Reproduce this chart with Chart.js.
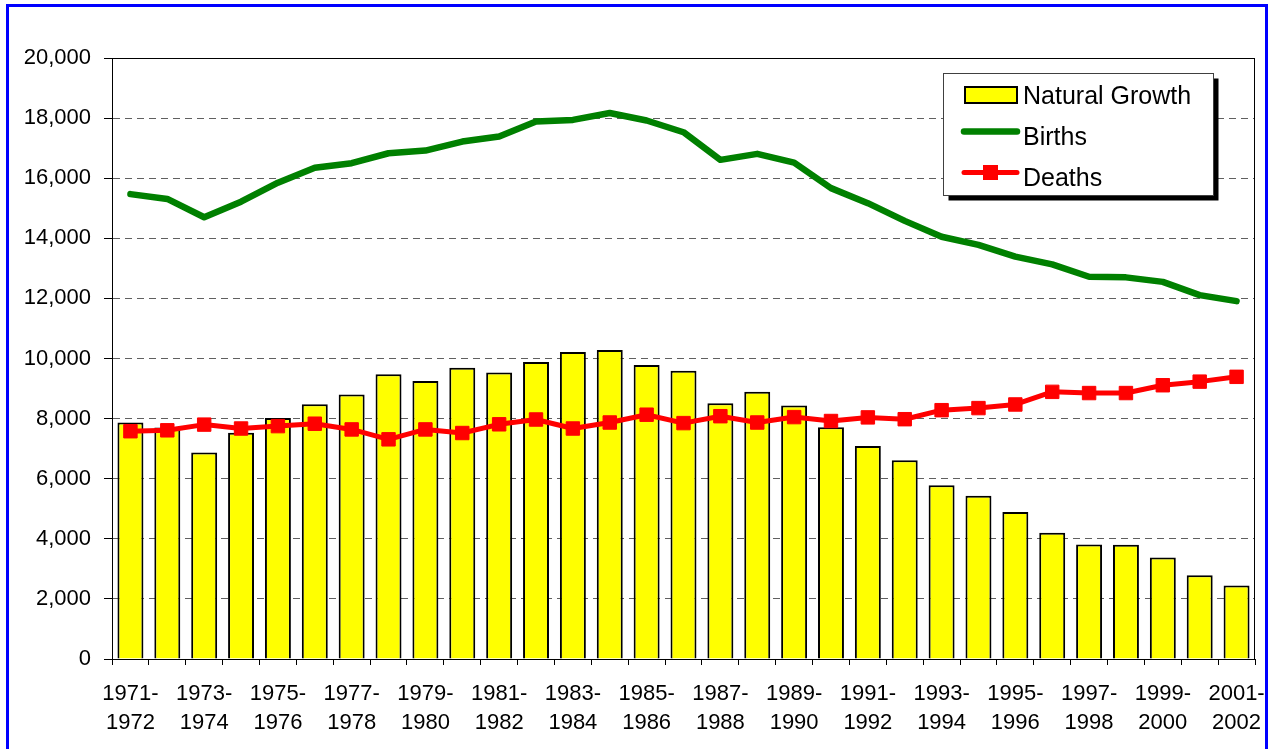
<!DOCTYPE html>
<html>
<head>
<meta charset="utf-8">
<title>Natural Growth, Births and Deaths 1971-2002</title>
<script src="https://cdn.jsdelivr.net/npm/chart.js@4.4.1/dist/chart.umd.min.js"></script>
<style>
    html, body { margin: 0; padding: 0; background: #fff; overflow: hidden; }
    #wrap { position: relative; width: 1270px; height: 749px; }
    #myChart { position: absolute; left: 0; top: 0; display: block; }
    #frame { position: absolute; left: 6px; top: 4px; width: 1256px; height: 800px; border: 3px solid #0000ff; pointer-events: none; }
</style>
</head>
<body>
<div id="wrap">
    <canvas id="myChart" width="1270" height="749"></canvas>
    <div id="frame"></div>
</div>
<script>
// periodos (eixo x)
const periodos = [
    '1971-1972', '1972-1973', '1973-1974', '1974-1975', '1975-1976', '1976-1977',
    '1977-1978', '1978-1979', '1979-1980', '1980-1981', '1981-1982', '1982-1983',
    '1983-1984', '1984-1985', '1985-1986', '1986-1987', '1987-1988', '1988-1989',
    '1989-1990', '1990-1991', '1991-1992', '1992-1993', '1993-1994', '1994-1995',
    '1995-1996', '1996-1997', '1997-1998', '1998-1999', '1999-2000', '2000-2001',
    '2001-2002'
];

const crescimentoNatural = [
    7870, 7700, 6870, 7530, 8020, 8480, 8800, 9480, 9250, 9690, 9530, 9880,
    10220, 10280, 9780, 9590, 8510, 8890, 8440, 7710, 7090, 6610, 5780, 5430,
    4890, 4200, 3810, 3800, 3380, 2790, 2450
];

const nascimentos = [
    15470, 15310, 14700, 15220, 15850, 16350, 16500, 16830, 16920, 17220, 17390, 17890,
    17940, 18170, 17920, 17530, 16610, 16810, 16520, 15670, 15170, 14580, 14050, 13780,
    13390, 13130, 12720, 12700, 12550, 12110, 11910
];

const obitos = [
    7580, 7610, 7800, 7670, 7750, 7830, 7640, 7310, 7640, 7520, 7810, 7970,
    7670, 7870, 8130, 7850, 8080, 7870, 8050, 7920, 8040, 7980, 8280, 8350,
    8470, 8890, 8850, 8850, 9110, 9230, 9390
];

const ticksY = [0, 2000, 4000, 6000, 8000, 10000, 12000, 14000, 16000, 18000, 20000];

Chart.defaults.font.family = "'Liberation Sans', Arial, sans-serif";
Chart.defaults.color = '#000';

// moldura da area do grafico
const moldura = {
    id: 'moldura',
    beforeDatasetsDraw(chart) {
        const { ctx, chartArea } = chart;
        ctx.save();
        ctx.strokeStyle = '#000';
        ctx.lineWidth = 1;
        ctx.strokeRect(chartArea.left + 0.5, chartArea.top + 0.5,
            chartArea.right - chartArea.left - 1, chartArea.bottom - chartArea.top);
        ctx.restore();
    }
};

// legenda com sombra, igual ao Excel
const legenda = {
    id: 'legenda',
    afterDraw(chart) {
        const { ctx } = chart;
        const ds = chart.data.datasets;
        const x = 943.5, y = 73.5, w = 270, h = 122;
        ctx.save();
        ctx.fillStyle = '#000';
        ctx.fillRect(x + 5, y + 5, w, h);
        ctx.fillStyle = '#fff';
        ctx.fillRect(x, y, w, h);
        ctx.strokeStyle = '#404040';
        ctx.lineWidth = 1;
        ctx.strokeRect(x, y, w, h);

        // barra
        ctx.fillStyle = ds[0].backgroundColor;
        ctx.fillRect(965, 87, 52, 16);
        ctx.strokeStyle = ds[0].borderColor;
        ctx.lineWidth = 2;
        ctx.strokeRect(965, 87, 52, 16);

        // linhas
        ctx.lineCap = 'round';
        ctx.strokeStyle = ds[1].borderColor;
        ctx.lineWidth = ds[1].borderWidth;
        ctx.beginPath();
        ctx.moveTo(964, 131.5);
        ctx.lineTo(1017, 131.5);
        ctx.stroke();

        ctx.strokeStyle = ds[2].borderColor;
        ctx.lineWidth = ds[2].borderWidth;
        ctx.beginPath();
        ctx.moveTo(964, 172.5);
        ctx.lineTo(1017, 172.5);
        ctx.stroke();
        ctx.fillStyle = ds[2].pointBackgroundColor;
        ctx.fillRect(983, 165, 15, 15);

        ctx.fillStyle = '#000';
        ctx.font = "25px 'Liberation Sans', Arial, sans-serif";
        ctx.textBaseline = 'alphabetic';
        ctx.textAlign = 'left';
        ctx.fillText(ds[0].label, 1023, 104);
        ctx.fillText(ds[1].label, 1023, 145);
        ctx.fillText(ds[2].label, 1023, 186);
        ctx.restore();
    }
};

const dados = {
    labels: periodos,
    datasets: [
        {
            type: 'bar',
            label: 'Natural Growth',
            data: crescimentoNatural,
            backgroundColor: '#ffff00',
            borderColor: '#000',
            borderWidth: 2,
            categoryPercentage: 0.8,
            barPercentage: 0.88,
            order: 3
        },
        {
            type: 'line',
            label: 'Births',
            data: nascimentos,
            borderColor: '#008000',
            backgroundColor: '#008000',
            borderWidth: 6.5,
            borderJoinStyle: 'round',
            borderCapStyle: 'round',
            pointRadius: 0,
            tension: 0,
            order: 2
        },
        {
            type: 'line',
            label: 'Deaths',
            data: obitos,
            borderColor: '#ff0000',
            backgroundColor: '#ff0000',
            borderWidth: 5,
            borderJoinStyle: 'round',
            pointStyle: 'rect',
            pointRadius: 9.5,
            pointBorderWidth: 1,
            pointBackgroundColor: '#ff0000',
            pointBorderColor: '#ff0000',
            tension: 0,
            order: 1
        }
    ]
};

const config = {
    type: 'bar',
    data: dados,
    options: {
        responsive: false,
        animation: false,
        devicePixelRatio: 1,
        layout: {
            padding: { top: 58, right: 15, left: 0, bottom: 0 }
        },
        scales: {
            x: {
                afterFit(scale) {
                    scale.height = 90;
                    scale.paddingLeft = 0;
                    scale.paddingRight = 0;
                },
                grid: {
                    display: true,
                    drawOnChartArea: false,
                    offset: true,
                    tickLength: 6,
                    color: '#000'
                },
                border: { display: true, color: '#000', width: 1 },
                ticks: {
                    autoSkip: false, // mostra um rotulo sim, outro nao
                    maxRotation: 0,
                    minRotation: 0,
                    padding: 14,
                    color: '#000',
                    font: { size: 22, lineHeight: 1.32 },
                    callback: function (valor, i) {
                        if (i % 2 !== 0) return '';
                        const partes = periodos[i].split('-');
                        return [partes[0] + '-', partes[1]];
                    }
                }
            },
            y: {
                min: ticksY[0],
                max: ticksY[ticksY.length - 1],
                afterFit(scale) {
                    scale.width = 112;
                },
                afterBuildTicks(scale) {
                    scale.ticks = ticksY.map(v => ({ value: v }));
                },
                grid: {
                    color: '#606060',
                    lineWidth: 1,
                    tickLength: 8,
                    tickColor: '#000',
                    tickWidth: 1
                },
                border: { display: true, color: '#000', width: 1, dash: [7, 5] },
                ticks: {
                    padding: 13,
                    color: '#000',
                    font: { size: 22 },
                    callback: v => v.toLocaleString('en-US')
                }
            }
        },
        plugins: {
            legend: { display: false },
            tooltip: { enabled: false },
            title: { display: false }
        }
    },
    plugins: [moldura, legenda]
};

const ctx = document.getElementById('myChart').getContext('2d');
new Chart(ctx, config);
</script>
</body>
</html>
